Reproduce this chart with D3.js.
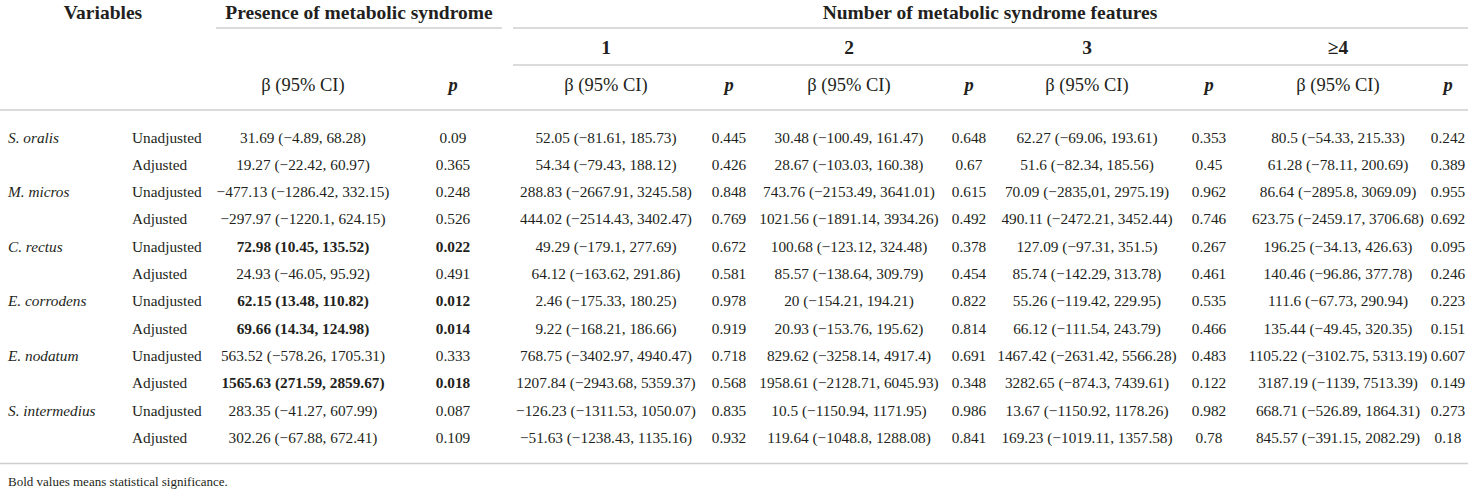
<!DOCTYPE html>
<html>
<head>
<meta charset="utf-8">
<script src="https://cdnjs.cloudflare.com/ajax/libs/d3/7.8.5/d3.min.js"></script>
<style>
  html, body { margin: 0; padding: 0; background: #fff; overflow: hidden; }
  svg { display: block; }
  text { font-family: "Liberation Serif", "DejaVu Serif", serif; fill: #231f20; }
</style>
</head>
<body>
<svg id="tbl" width="1468" height="492"></svg>
<script>

// table contents
var bacteria = ["S. oralis", "M. micros", "C. rectus", "E. corrodens", "E. nodatum", "S. intermedius"];
var models = ["Unadjusted", "Adjusted"];
var featureGroups = ["1", "2", "3", "\u22654"];

var presenceBeta = ["31.69 (−4.89, 68.28)", "19.27 (−22.42, 60.97)", "−477.13 (−1286.42, 332.15)", "−297.97 (−1220.1, 624.15)",
  "72.98 (10.45, 135.52)", "24.93 (−46.05, 95.92)", "62.15 (13.48, 110.82)", "69.66 (14.34, 124.98)",
  "563.52 (−578.26, 1705.31)", "1565.63 (271.59, 2859.67)", "283.35 (−41.27, 607.99)", "302.26 (−67.88, 672.41)"];
var presenceP = ["0.09", "0.365", "0.248", "0.526", "0.022", "0.491", "0.012", "0.014", "0.333", "0.018", "0.087", "0.109"];

var f1Beta = ["52.05 (−81.61, 185.73)", "54.34 (−79.43, 188.12)", "288.83 (−2667.91, 3245.58)", "444.02 (−2514.43, 3402.47)",
  "49.29 (−179.1, 277.69)", "64.12 (−163.62, 291.86)", "2.46 (−175.33, 180.25)", "9.22 (−168.21, 186.66)",
  "768.75 (−3402.97, 4940.47)", "1207.84 (−2943.68, 5359.37)", "−126.23 (−1311.53, 1050.07)", "−51.63 (−1238.43, 1135.16)"];
var f1P = ["0.445", "0.426", "0.848", "0.769", "0.672", "0.581", "0.978", "0.919", "0.718", "0.568", "0.835", "0.932"];

var f2Beta = ["30.48 (−100.49, 161.47)", "28.67 (−103.03, 160.38)", "743.76 (−2153.49, 3641.01)", "1021.56 (−1891.14, 3934.26)",
  "100.68 (−123.12, 324.48)", "85.57 (−138.64, 309.79)", "20 (−154.21, 194.21)", "20.93 (−153.76, 195.62)",
  "829.62 (−3258.14, 4917.4)", "1958.61 (−2128.71, 6045.93)", "10.5 (−1150.94, 1171.95)", "119.64 (−1048.8, 1288.08)"];
var f2P = ["0.648", "0.67", "0.615", "0.492", "0.378", "0.454", "0.822", "0.814", "0.691", "0.348", "0.986", "0.841"];

var f3Beta = ["62.27 (−69.06, 193.61)", "51.6 (−82.34, 185.56)", "70.09 (−2835,01, 2975.19)", "490.11 (−2472.21, 3452.44)",
  "127.09 (−97.31, 351.5)", "85.74 (−142.29, 313.78)", "55.26 (−119.42, 229.95)", "66.12 (−111.54, 243.79)",
  "1467.42 (−2631.42, 5566.28)", "3282.65 (−874.3, 7439.61)", "13.67 (−1150.92, 1178.26)", "169.23 (−1019.11, 1357.58)"];
var f3P = ["0.353", "0.45", "0.962", "0.746", "0.267", "0.461", "0.535", "0.466", "0.483", "0.122", "0.982", "0.78"];

var f4Beta = ["80.5 (−54.33, 215.33)", "61.28 (−78.11, 200.69)", "86.64 (−2895.8, 3069.09)", "623.75 (−2459.17, 3706.68)",
  "196.25 (−34.13, 426.63)", "140.46 (−96.86, 377.78)", "111.6 (−67.73, 290.94)", "135.44 (−49.45, 320.35)",
  "1105.22 (−3102.75, 5313.19)", "3187.19 (−1139, 7513.39)", "668.71 (−526.89, 1864.31)", "845.57 (−391.15, 2082.29)"];
var f4P = ["0.242", "0.389", "0.955", "0.692", "0.095", "0.246", "0.223", "0.151", "0.607", "0.149", "0.273", "0.18"];

// rows where the presence columns are significant
var boldRows = [4, 6, 7, 9];

var svg = d3.select("#tbl");
var W = 1468;

var rowIdx = d3.range(presenceBeta.length);
var y = d3.scaleBand().domain(rowIdx).range([123.5, 451.1]);

var colKeys = ["pB", "pP", "b1", "p1", "b2", "p2", "b3", "p3", "b4", "p4"];
var x = d3.scaleOrdinal().domain(colKeys).range([303, 453, 606, 729, 849, 969, 1087, 1209, 1338, 1448]);

var cols = [
  {key: "pB", vals: presenceBeta}, {key: "pP", vals: presenceP},
  {key: "b1", vals: f1Beta}, {key: "p1", vals: f1P},
  {key: "b2", vals: f2Beta}, {key: "p2", vals: f2P},
  {key: "b3", vals: f3Beta}, {key: "p3", vals: f3P},
  {key: "b4", vals: f4Beta}, {key: "p4", vals: f4P}
];

// rules
var rules = [
  [216, 502, 28], [513, W, 28],
  [513, W, 65],
  [0, W, 110],
  [0, W, 463.5]
];
svg.selectAll("line.rule").data(rules).join("line")
  .attr("class", "rule")
  .attr("x1", d => d[0]).attr("x2", d => d[1])
  .attr("y1", d => d[2]).attr("y2", d => d[2])
  .attr("stroke", "#cfcfcf").attr("stroke-width", 1.5);

// header
var head = svg.append("g").attr("font-weight", "bold").attr("font-size", 19.5).attr("text-anchor", "middle");
head.append("text").attr("x", 103).attr("y", 12).attr("dy", "0.35em").text("Variables");
head.append("text").attr("x", 359).attr("y", 12).attr("dy", "0.35em").text("Presence of metabolic syndrome");
head.append("text").attr("x", 990).attr("y", 12).attr("dy", "0.35em").text("Number of metabolic syndrome features");

head.selectAll("text.grp").data(featureGroups).join("text")
  .attr("class", "grp")
  .attr("x", (d, i) => x("b" + (i + 1)))
  .attr("y", 47).attr("dy", "0.35em")
  .text(d => d);

var sub = svg.append("g").attr("font-size", 18.5).attr("text-anchor", "middle");
sub.selectAll("text").data(colKeys).join("text")
  .attr("x", d => x(d))
  .attr("y", 85).attr("dy", "0.35em")
  .attr("font-style", d => d[0] == "p" && d != "pB" ? "italic" : null)
  .attr("font-weight", d => d[0] == "p" && d != "pB" ? "bold" : null)
  .text(d => (d[0] == "p" && d != "pB") ? "p" : "β (95% CI)");

// body
var body = svg.append("g").attr("font-size", 15.3);
var mid = i => y(i) + y.bandwidth() / 2;

body.selectAll("text.bug").data(bacteria).join("text")
  .attr("class", "bug")
  .attr("x", 8).attr("y", (d, i) => mid(i * 2)).attr("dy", "0.35em")
  .attr("font-style", "italic")
  .text(d => d);

body.selectAll("text.model").data(rowIdx).join("text")
  .attr("class", "model")
  .attr("x", 132).attr("y", i => mid(i)).attr("dy", "0.35em")
  .text(i => models[i % 2]);

cols.forEach(function (c) {
  body.append("g").attr("text-anchor", "middle")
    .selectAll("text").data(c.vals).join("text")
    .attr("x", x(c.key))
    .attr("y", (d, i) => mid(i)).attr("dy", "0.35em")
    .attr("font-weight", (d, i) => (c.key[1] == "B" || c.key[1] == "P") && boldRows.includes(i) ? "bold" : null)
    .text(d => d);
});

svg.append("text").attr("x", 8).attr("y", 481).attr("dy", "0.35em")
  .attr("font-size", 13)
  .text("Bold values means statistical significance.");

</script>
</body>
</html>
